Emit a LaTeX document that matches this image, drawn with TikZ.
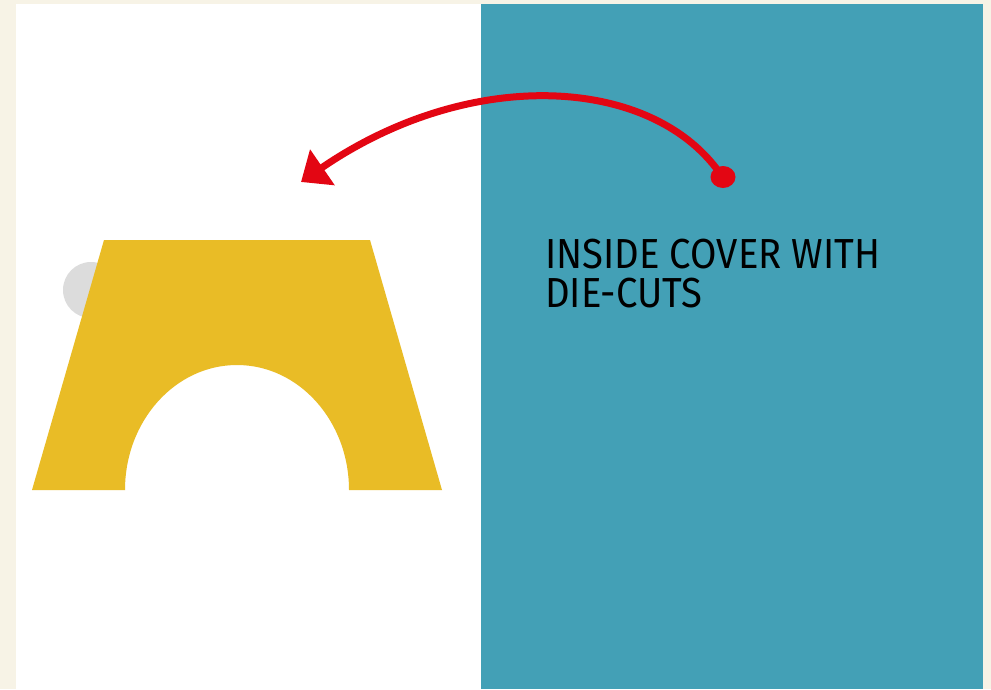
\documentclass[tikz,border=0pt]{standalone}
\usepackage{fontspec}
\newfontfamily\labelfont{Fira Sans}
\usetikzlibrary{arrows.meta}
\definecolor{cream}{HTML}{F7F3E6}
\definecolor{teal}{HTML}{43A0B6}
\definecolor{gold}{HTML}{E9BC26}
\definecolor{lgrey}{HTML}{DCDCDC}
\definecolor{red}{HTML}{E30613}
\tikzset{
  arrowline/.style={draw=red, line width=7pt, -{Triangle[length=26pt,width=42pt]}},
  caption/.style={anchor=north west, align=left, inner sep=0pt, font=\labelfont\fontsize{42}{39}\selectfont, text=black}
}
\begin{document}
\begin{tikzpicture}[x=1pt,y=-1pt]
\useasboundingbox (0,0) rectangle (991,689);
\fill[cream] (0,0) rectangle (991,689);
\fill[white] (16,4) rectangle (481,689);
\fill[teal] (481,4) rectangle (983,689);
% grey circle
\fill[lgrey] (91,290) circle[radius=28];
% die-cut trapezoid with elliptical arch
\fill[gold] (104,240) -- (370,240) -- (442,490) -- (349,490)
  arc[start angle=0, end angle=-180, x radius=112, y radius=125]
  -- (32,490) -- cycle;
% arrow
\fill[red] (723,177) ellipse[x radius=12.5, y radius=11];
\coordinate (start) at (719,172);
\coordinate (tip) at (301,182);
\draw[arrowline] (start) .. controls (650,76) and (470,66) .. (tip);
% caption
\node[caption] (cap) at (545,239) {\scalebox{0.91}[1]{INSIDE COVER WITH}\\\scalebox{0.91}[1]{DIE-CUTS}};
\end{tikzpicture}
\end{document}
